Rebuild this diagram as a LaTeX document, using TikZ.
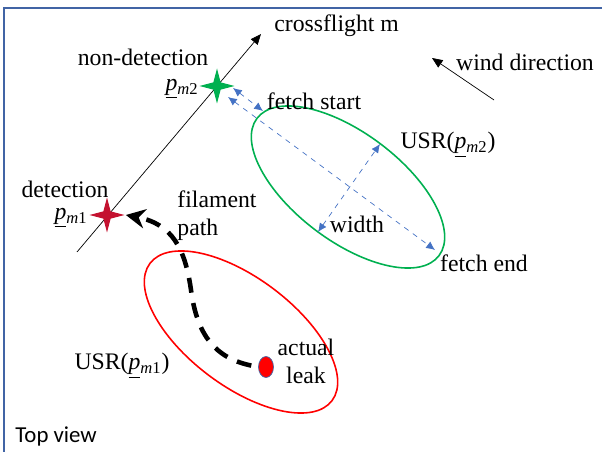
\documentclass[tikz,border=0pt]{standalone}
\usepackage{fontspec}
\setmainfont{Liberation Serif}
\newfontfamily\viewfont{Carlito}
\usetikzlibrary{shapes.geometric,arrows.meta,positioning}
\definecolor{fgreen}{RGB}{0,176,80}
\definecolor{fred}{RGB}{196,18,48}
\definecolor{fblue}{RGB}{68,114,196}
\definecolor{fframe}{RGB}{65,100,165}
\newcommand{\pmark}[1]{\underline{\textit{p}}\textsubscript{\textit{m}#1}}

\begin{document}
\begin{tikzpicture}[x=0.02cm,y=-0.02cm,
    lbl/.style={font=\fontsize{13.5}{16}\selectfont,inner sep=0pt},
    fourstar/.style={star,star points=4,star point ratio=3.4,minimum size=0.7cm,inner sep=0pt,draw=none},
    fetchline/.style={fblue,dashed,thin,{Latex[length=5pt,width=4.5pt]}-{Latex[length=5pt,width=4.5pt]}},
    usr/.style={line width=0.9pt},
    filament/.style={line width=2.6pt,dash pattern=on 8.5pt off 6pt,shorten <=4pt,-{Stealth[length=11pt,width=11pt]}}]
  \useasboundingbox (0,0) rectangle (602,452);
  % frame
  \draw[fframe,line width=0.8pt] (4,452) -- (4,8) -- (602,8);
  % crossflight line
  \coordinate (cflow) at (77,252);
  \coordinate (cfhigh) at (261,34);
  \draw[thin,-{Triangle[length=6pt,width=5pt]}] (cflow) -- (cfhigh);
  \node[lbl,anchor=west] (cftext) at (274,26) {crossflight m};
  % uncertainty regions
  \draw[fgreen,usr,rotate around={-37:(348,187)}] (348,187) ellipse (114 and 54);
  \draw[red,usr,rotate around={-37:(241,332)}] (241,332) ellipse (114 and 54);
  % fetch and width
  \coordinate (fs1) at (233,88);
  \coordinate (fs2) at (263,111);
  \coordinate (fe1) at (228,97);
  \coordinate (fe2) at (435,250);
  \coordinate (w1) at (318,232);
  \coordinate (w2) at (380,144);
  \draw[fetchline] (fs1) -- (fs2);
  \draw[fetchline] (fe1) -- (fe2);
  \draw[fetchline] (w1) -- (w2);
  % measurement points
  \node[fourstar,fill=fgreen] (gstar) at (217,86) {};
  \node[fourstar,fill=fred] (rstar) at (107,215) {};
  \node[lbl,anchor=east] (pm2) at (199,89) {\pmark{2}};
  \node[lbl] (nondet) at (143,57) {non-detection};
  \node[lbl,anchor=east] (pm1) at (88,218) {\pmark{1}};
  \node[lbl] (det) at (65,189) {detection};
  % leak and filament
  \node[ellipse,fill=red,draw=fframe,minimum width=0.3cm,minimum height=0.42cm,inner sep=0pt] (leak) at (266,367) {};
  \draw[filament] (leak.west) .. controls (215,358) and (197,335) .. (191,290)
    .. controls (185,248) and (172,224) .. (rstar.east);
  % wind
  \coordinate (windtail) at (494,100);
  \coordinate (windhead) at (432,58);
  \draw[thin,-{Triangle[length=6pt,width=5pt]}] (windtail) -- (windhead);
  \node[lbl] (windtext) at (525,62) {wind direction};
  % labels
  \node[lbl] (fstext) at (314,101) {fetch start};
  \node[lbl] (usr2) at (448,145) {USR(\pmark{2})};
  \node[lbl] (wtext) at (357,224) {width};
  \node[lbl] (fetext) at (484,263) {fetch end};
  \node[lbl,align=left] (filtext) at (217,216) {filament\\path};
  \node[lbl,align=center] (leaktext) at (306,361) {actual\\leak};
  \node[lbl] (usr1) at (122,366) {USR(\pmark{1})};
  \node[font=\viewfont\fontsize{13}{15}\selectfont,anchor=west,inner sep=0pt] (topview) at (15,436) {Top view};
\end{tikzpicture}
\end{document}
